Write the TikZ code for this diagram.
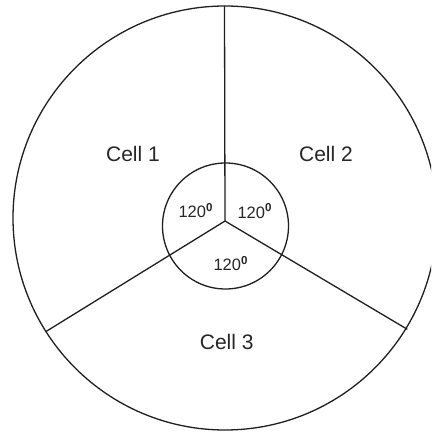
\documentclass[tikz,border=0pt]{standalone}
\usepackage{fontspec}
\setmainfont{Liberation Sans}
\begin{document}
\begin{tikzpicture}[x=1pt,y=-1pt,
  ln/.style={draw=black!88, line width=1.3pt},
  celltext/.style={font=\fontsize{21}{24}\selectfont, text=black!85, inner sep=0pt},
  angtext/.style={font=\fontsize{16.5}{19}\selectfont, text=black!85, inner sep=0pt, anchor=base west}]
\useasboundingbox (0,0) rectangle (431,438);
\clip (0,0) rectangle (431,438);
\fill[white] (0,0) rectangle (431,438);
\node[circle, ln, minimum size=424pt, inner sep=0pt] (big) at (225,218) {};
\node[circle, ln, minimum size=126pt, inner sep=0pt] (small) at (225.5,226) {};
\coordinate (J) at (225,221);
\coordinate (T) at (224.5,6);
\coordinate (L) at (45.7,331.7);
\coordinate (R) at (407.3,329.3);
\draw[ln] (J) -- (T);
\draw[ln] (J) -- (L);
\draw[ln] (J) -- (R);
\node[celltext] (c1) at (133,153.5) {Cell 1};
\node[celltext] (c2) at (326,153.5) {Cell 2};
\node[celltext] (c3) at (226.7,342.3) {Cell 3};
\node[angtext] (a1) at (178.3,217.7) {120\textsuperscript{\textbf{0}}};
\node[angtext] (a2) at (237.3,218) {120\textsuperscript{\textbf{0}}};
\node[angtext] (a3) at (213.3,270.7) {120\textsuperscript{\textbf{0}}};
\end{tikzpicture}
\end{document}
